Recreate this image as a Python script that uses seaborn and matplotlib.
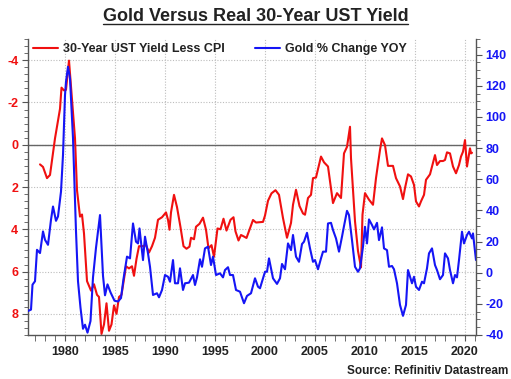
import matplotlib
matplotlib.use("Agg")
import matplotlib.pyplot as plt
import seaborn as sns
import pandas as pd
from matplotlib.ticker import MultipleLocator
from matplotlib.lines import Line2D

# ---- data ----
red_label = "30-Year UST Yield Less CPI"
blue_label = "Gold % Change YOY"

red_years = [1977.5, 1977.8, 1978.2, 1978.5, 1979.0, 1979.5, 1979.65, 1979.9, 1980.1, 1980.4,
             1981.0, 1981.2, 1981.5, 1981.7, 1981.9, 1982.2, 1982.6, 1982.9, 1983.2, 1983.4,
             1983.65, 1983.9, 1984.15, 1984.4, 1984.65, 1984.9, 1985.15, 1985.4, 1985.65, 1985.95,
             1986.1, 1986.4, 1986.7, 1986.9, 1987.15, 1987.4, 1987.75, 1988.1, 1988.4, 1988.7,
             1989.0, 1989.3, 1989.7, 1990.1, 1990.3, 1990.45, 1990.6, 1990.9, 1991.2, 1991.55,
             1991.85, 1992.15, 1992.45, 1992.6, 1992.9, 1993.1, 1993.45, 1993.8, 1994.1, 1994.35,
             1994.65, 1994.9, 1995.25, 1995.55, 1995.85, 1996.15, 1996.55, 1996.85, 1997.05, 1997.35,
             1997.6, 1997.85, 1998.15, 1998.5, 1998.8, 1999.1, 1999.8, 2000.0, 2000.3, 2000.65,
             2001.05, 2001.4, 2001.8, 2002.2, 2002.6, 2002.8, 2003.1, 2003.45, 2003.8, 2004.0,
             2004.3, 2004.6, 2004.8, 2005.1, 2005.6, 2005.9, 2006.3, 2006.8, 2007.2, 2007.6,
             2007.9, 2008.2, 2008.5, 2008.6, 2009.0, 2009.3, 2009.6, 2009.75, 2010.0, 2010.4,
             2010.8, 2011.1, 2011.5, 2011.7, 2012.0, 2012.3, 2012.8, 2013.1, 2013.5, 2013.8,
             2014.0, 2014.3, 2014.6, 2014.9, 2015.1, 2015.4, 2015.6, 2015.9, 2016.1, 2016.5,
             2016.7, 2017.0, 2017.2, 2017.5, 2017.8, 2018.0, 2018.2, 2018.5, 2018.8, 2019.1,
             2019.4, 2019.6, 2019.8, 2020.0, 2020.2, 2020.5, 2020.6, 2020.7]
red_vals = [0.93, 1.05, 1.58, 1.43, -0.3, -1.7, -2.7, -2.57, -2.6, -3.98,
            -0.3, 2.15, 3.4, 3.3, 4.2, 6.45, 6.9, 6.6, 7.1, 7.2,
            8.95, 8.5, 7.5, 8.8, 8.5, 7.6, 8.0, 7.2, 7.1, 6.2,
            5.75, 5.85, 5.75, 6.2, 5.4, 4.8, 4.8, 4.75, 5.1, 4.8,
            4.4, 3.55, 3.43, 3.2, 3.55, 4.02, 3.2, 2.37, 2.95, 3.9,
            4.8, 4.92, 4.82, 4.4, 4.47, 3.88, 3.74, 3.45, 4.02, 4.9,
            4.75, 5.3, 3.96, 4.0, 3.5, 4.06, 3.55, 3.43, 4.1, 4.53,
            4.27, 4.33, 4.41, 3.95, 3.56, 3.68, 3.65, 3.35, 2.65, 2.3,
            2.15, 2.37, 3.47, 4.4, 3.7, 2.84, 2.13, 2.9, 3.25, 3.31,
            2.52, 2.37, 1.58, 1.55, 0.56, 0.83, 1.03, 2.76, 2.29, 2.52,
            0.41, 0.1, -0.85, 0.64, 3.62, 5.03, 5.8, 3.31, 2.29, 2.6,
            2.84, 1.58, 0.25, -0.3, 0.02, 1.0, 1.0, 1.58, 1.97, 2.57,
            2.05, 1.4, 1.5, 1.9, 2.68, 2.92, 2.68, 2.37, 1.66, 1.4,
            1.03, 0.49, 0.96, 0.77, 0.77, 0.72, 0.36, 0.41, 1.03, 1.35,
            0.96, 0.56, 0.33, -0.22, 1.03, 0.17, 0.41, 0.38]

blue_years = [1976.3, 1976.6, 1976.75, 1977.0, 1977.2, 1977.5, 1977.8, 1978.0, 1978.3, 1978.6,
              1978.8, 1979.1, 1979.3, 1979.6, 1979.8, 1980.0, 1980.1, 1980.3, 1980.5, 1980.8,
              1981.1, 1981.3, 1981.55, 1981.8, 1982.0, 1982.25, 1982.55, 1982.8, 1983.1, 1983.5,
              1983.8, 1984.0, 1984.25, 1984.55, 1984.95, 1985.3, 1985.6, 1985.85, 1986.2, 1986.5,
              1986.8, 1987.1, 1987.3, 1987.45, 1987.8, 1988.0, 1988.3, 1988.5, 1988.8, 1989.2,
              1989.4, 1989.7, 1990.0, 1990.3, 1990.5, 1990.8, 1991.0, 1991.3, 1991.5, 1991.8,
              1992.0, 1992.4, 1992.8, 1993.0, 1993.2, 1993.5, 1993.7, 1994.0, 1994.3, 1994.6,
              1994.8, 1995.1, 1995.5, 1995.8, 1996.0, 1996.3, 1996.5, 1996.8, 1997.1, 1997.5,
              1997.9, 1998.2, 1998.6, 1999.0, 1999.3, 1999.5, 2000.0, 2000.2, 2000.4, 2000.8,
              2001.2, 2001.5, 2001.7, 2002.0, 2002.3, 2002.6, 2002.8, 2003.1, 2003.4, 2003.7,
              2003.9, 2004.2, 2004.5, 2004.8, 2005.0, 2005.3, 2005.6, 2005.8, 2006.1, 2006.3,
              2006.6, 2006.8, 2007.1, 2007.4, 2007.7, 2007.9, 2008.2, 2008.4, 2008.7, 2009.0,
              2009.3, 2009.5, 2009.8, 2010.0, 2010.2, 2010.4, 2010.7, 2010.9, 2011.2, 2011.4,
              2011.7, 2011.9, 2012.2, 2012.4, 2012.7, 2012.9, 2013.2, 2013.5, 2013.8, 2014.1,
              2014.3, 2014.7, 2014.9, 2015.1, 2015.4, 2015.7, 2015.9, 2016.2, 2016.4, 2016.7,
              2017.0, 2017.2, 2017.5, 2017.8, 2018.0, 2018.3, 2018.5, 2018.8, 2019.0, 2019.2,
              2019.4, 2019.7, 2019.9, 2020.2, 2020.4, 2020.7, 2020.8, 2021.1]
blue_vals = [-24.6, -23.7, -7.7, -5.5, 14.7, 12.6, 26.5, 21.1, 17.9, 34.0,
             42.5, 33.3, 36.1, 52.1, 75.6, 114.0, 122.6, 132.2, 124.7, 86.3,
             26.5, -5.5, -22.5, -36.0, -33.4, -38.5, -31.0, -3.0, 16.0, 37.0,
             -2.0, -14.5, -7.5, -12.6, -18.0, -18.5, -16.3, -4.0, 10.3, 9.2,
             31.6, 19.9, 18.8, 28.4, 8.1, 23.1, 12.4, 3.8, -14.3, -13.2,
             -15.8, -11.1, -1.5, -2.6, -5.8, 8.1, -6.8, -6.8, 2.8, -11.1,
             -6.8, -6.4, -1.5, -7.9, -3.0, 8.6, 3.8, 15.6, 16.7, 4.9,
             10.3, -1.5, -0.4, -3.0, 1.7, 3.5, -1.5, -1.5, -11.1, -12.2,
             -19.6, -14.9, -13.2, -3.6, -9.0, -10.0, 0.6, 0.6, 9.2, -3.6,
             -7.2, -3.6, 5.6, 2.2, 18.8, 14.5, 24.2, 10.3, 7.0, 18.4,
             19.9, 25.6, 15.6, 7.0, 8.1, 2.2, 9.2, 13.5, 13.5, 31.6,
             32.0, 27.4, 22.0, 13.5, 23.1, 29.9, 39.7, 37.0, 20.9, 3.8,
             0.6, 2.8, 16.7, 29.5, 18.8, 34.2, 30.6, 27.8, 32.0, 20.9,
             29.1, 15.6, 14.5, 3.8, 4.3, 2.2, -6.8, -20.7, -27.7, -20.7,
             1.7, -6.8, -2.6, -9.0, -11.1, -5.8, -6.8, 2.8, 12.4, 15.6,
             4.9, 1.7, -4.2, -1.5, 12.4, 9.2, 1.7, -6.8, -1.5, -3.0,
             8.1, 26.3, 18.8, 24.2, 26.3, 22.0, 25.2, 8.1]

RED = "#F01010"
BLUE = "#1515F5"
GRID = "#BDBDBD"
SPINE = "#555555"

sns.set_style("white")
plt.rcParams['font.family'] = ['Liberation Sans', 'DejaVu Sans']
plt.rcParams['font.weight'] = 'bold'
plt.rcParams['axes.unicode_minus'] = False

red_df = pd.DataFrame({"Year": red_years, "Value": red_vals})
blue_df = pd.DataFrame({"Year": blue_years, "Value": blue_vals})

fig = plt.figure(figsize=(5.11, 3.79), dpi=100)
ax = fig.add_axes([0.0548, 0.1161, 0.8767, 0.7809])
ax2 = ax.twinx()

sns.lineplot(data=red_df, x="Year", y="Value", ax=ax, color=RED, lw=1.5, legend=False)
sns.lineplot(data=blue_df, x="Year", y="Value", ax=ax2, color=BLUE, lw=1.5, legend=False)

ax.set_xlim(1976.3, 2021.1)
ax.set_ylim(9, -5)
ax2.set_ylim(-40, 150)

ax.xaxis.set_major_locator(MultipleLocator(5))
ax.xaxis.set_minor_locator(MultipleLocator(1))
ax.yaxis.set_major_locator(MultipleLocator(2))
ax.yaxis.set_minor_locator(MultipleLocator(1 / 3))
ax2.yaxis.set_major_locator(MultipleLocator(20))
ax2.yaxis.set_minor_locator(MultipleLocator(5))

ax.grid(True, which="major", axis="both", linestyle=(0, (1, 1.5)), color=GRID, lw=0.8)
ax2.grid(False)
ax.axhline(0, color="#666666", lw=1.0, zorder=1)

for a in (ax, ax2):
    a.set_xlabel("")
    a.set_ylabel("")
    a.spines["top"].set_visible(False)
    for s in ("left", "right", "bottom"):
        a.spines[s].set_color(SPINE)
        a.spines[s].set_linewidth(1.0)

ax.spines["right"].set_visible(False)
ax2.spines["left"].set_visible(False)
ax2.spines["bottom"].set_visible(False)

ax.tick_params(axis="x", which="both", direction="out", bottom=True, color=SPINE,
               labelsize=9, labelcolor="#222222", pad=4)
ax.tick_params(axis="x", which="major", length=4)
ax.tick_params(axis="x", which="minor", length=4)
ax.tick_params(axis="y", which="both", direction="out", left=True, color=SPINE,
               labelsize=9, labelcolor=RED, pad=3)
ax.tick_params(axis="y", which="major", length=4)
ax.tick_params(axis="y", which="minor", length=3)
ax2.tick_params(axis="y", which="both", direction="out", right=True, color=SPINE,
                labelsize=9, labelcolor=BLUE, pad=3)
ax2.tick_params(axis="y", which="major", length=4)
ax2.tick_params(axis="y", which="minor", length=3)

for lbl in ax.get_xticklabels() + ax.get_yticklabels() + ax2.get_yticklabels():
    lbl.set_fontweight("bold")

handles = [Line2D([], [], color=RED, lw=1.5), Line2D([], [], color=BLUE, lw=1.5)]
ax2.legend(handles, [red_label, blue_label], loc="center left", bbox_to_anchor=(0.011, 0.966),
           ncol=2, frameon=False, fontsize=9, handlelength=2.0, handletextpad=0.4,
           columnspacing=2.4, borderaxespad=0, borderpad=0)
for t in ax2.get_legend().get_texts():
    t.set_fontweight("bold")
    t.set_color("#222222")

title = fig.text(0.5, 0.957, "Gold Versus Real 30-Year UST Yield", ha="center", va="center",
                 fontsize=13, fontweight="bold", color="#222222")
fig.text(0.994, 0.004, "Source: Refinitiv Datastream", ha="right", va="bottom",
         fontsize=8.5, fontweight="bold", color="#222222")

fig.canvas.draw()
bb = title.get_window_extent().transformed(fig.transFigure.inverted())
fig.add_artist(Line2D([bb.x0, bb.x1], [bb.y0 + 0.001, bb.y0 + 0.001],
                      transform=fig.transFigure, color="#222222", lw=1.0))

fig.savefig("out.png", dpi=100)
